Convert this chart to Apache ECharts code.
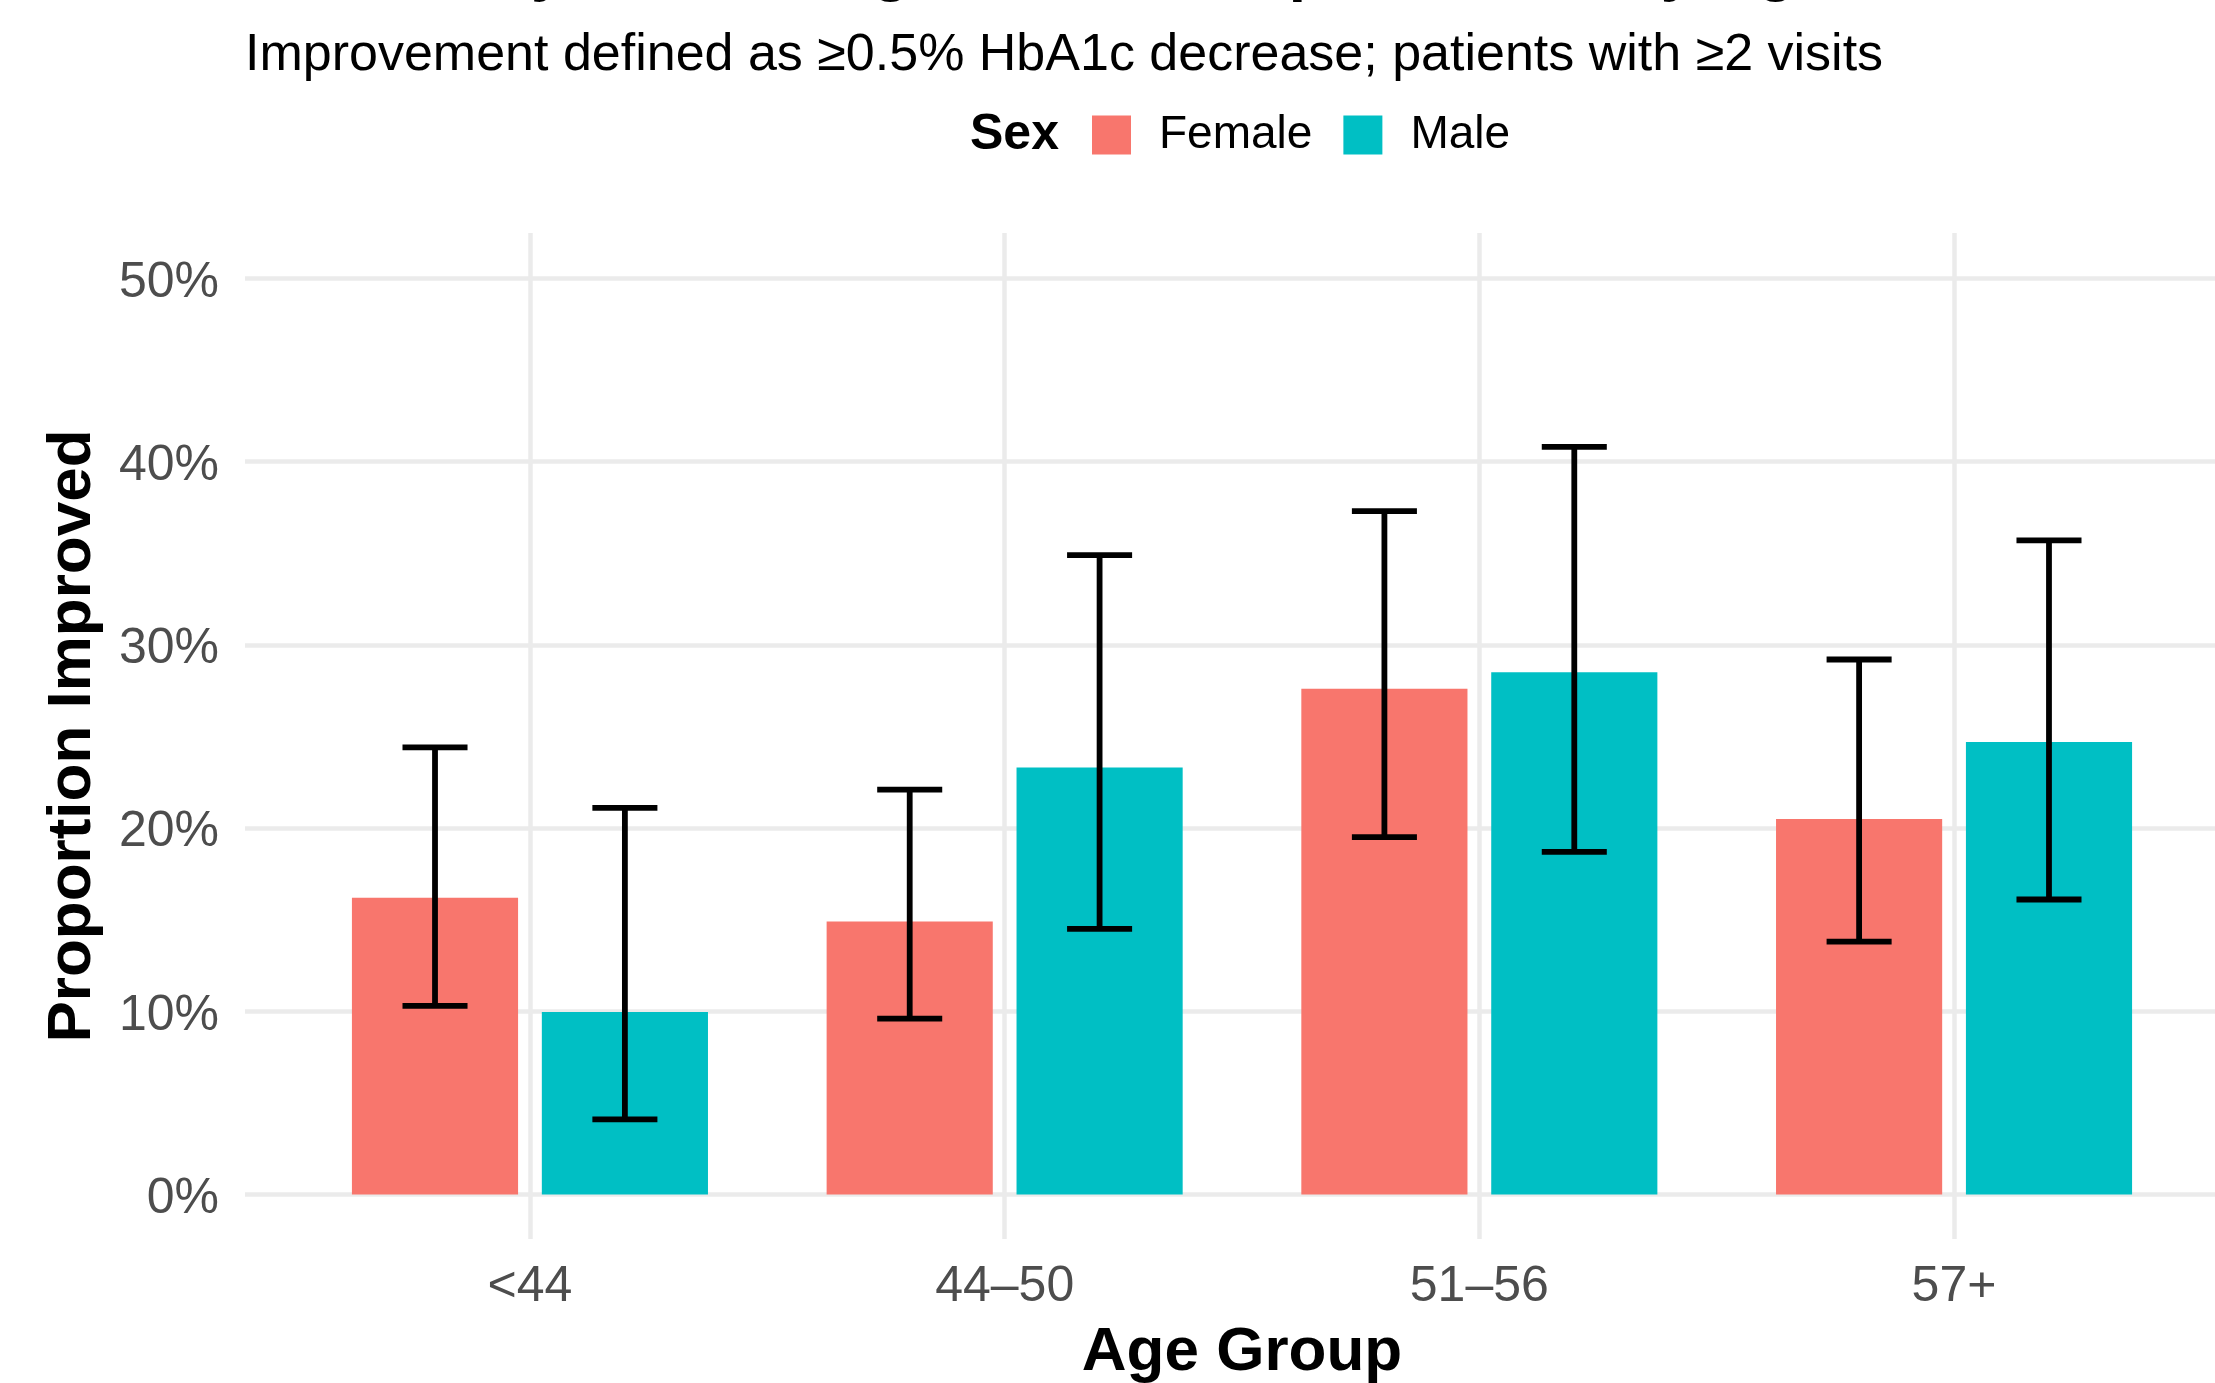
<!DOCTYPE html>
<html>
<head>
<meta charset="utf-8">
<script src="https://cdn.jsdelivr.net/npm/echarts@6/dist/echarts.min.js"></script>
<style>html,body{margin:0;padding:0;background:#fff;}#c{width:2215px;height:1383px;}</style>
</head>
<body>
<div id="c"></div>
<script>
const categories = ['<44', '44\u201350', '51\u201356', '57+'];
const femaleRate = [0.162, 0.149, 0.276, 0.205];
const femaleLow  = [0.103, 0.096, 0.195, 0.138];
const femaleHigh = [0.244, 0.221, 0.373, 0.292];
const maleRate   = [0.0996, 0.233, 0.285, 0.247];
const maleLow    = [0.041, 0.145, 0.187, 0.161];
const maleHigh   = [0.211, 0.349, 0.408, 0.357];
const yTicks = [0, 0.1, 0.2, 0.3, 0.4, 0.5];

const FONT = "'Liberation Sans', Arial, Helvetica, sans-serif";
const chart = echarts.init(document.getElementById('c'), null, {renderer: 'canvas'});

function errRender(sign) {
  return function (params, api) {
    const i = api.value(0);
    const lo = api.coord([i, api.value(1)]);
    const hi = api.coord([i, api.value(2)]);
    const band = api.size([1, 0])[0];
    const x = lo[0] + sign * 0.2 * band;
    const hw = 0.0685 * band;
    const st = {stroke: '#000', lineWidth: 5.8};
    return {
      type: 'group',
      children: [
        {type: 'line', shape: {x1: x, y1: hi[1], x2: x, y2: lo[1]}, style: st},
        {type: 'line', shape: {x1: x - hw, y1: hi[1], x2: x + hw, y2: hi[1]}, style: st},
        {type: 'line', shape: {x1: x - hw, y1: lo[1], x2: x + hw, y2: lo[1]}, style: st}
      ]
    };
  };
}

const option = {
  backgroundColor: '#ffffff',
  animation: false,
  textStyle: {fontFamily: FONT},
  title: [
    {text: 'Probability of Meaningful HbA1c Improvement by Age and Sex', left: 245, top: -59,
     padding: 0, textStyle: {fontFamily: FONT, fontSize: 62, fontWeight: 'bold', color: '#000'}},
    {text: 'Improvement defined as \u22650.5% HbA1c decrease; patients with \u22652 visits', left: 245, top: 30,
     padding: 0, textStyle: {fontFamily: FONT, fontSize: 52, fontWeight: 'normal', color: '#000'}}
  ],
  legend: {
    data: ['Female', 'Male'],
    left: 1092, top: 112, padding: 0,
    icon: 'rect', itemWidth: 39, itemHeight: 39, itemGap: 31,
    selectedMode: false,
    textStyle: {fontFamily: FONT, fontSize: 46, color: '#000', padding: [0, 0, 0, 23], lineHeight: 39}
  },
  graphic: [
    {type: 'text', left: 970, top: 132 - 22, style: {text: 'Sex', font: 'bold 50px ' + FONT, fill: '#000'}},
    {type: 'text', x: 73, y: 736, rotation: Math.PI / 2,
     style: {text: 'Proportion Improved', font: 'bold 62px ' + FONT, fill: '#000', align: 'center', verticalAlign: 'middle'}},
    {type: 'text', x: 1242, y: 1353,
     style: {text: 'Age Group', font: 'bold 62px ' + FONT, fill: '#000', align: 'center', verticalAlign: 'middle'}}
  ],
  grid: [
    {left: 530, width: 1424, top: 233, height: 1006, containLabel: false},
    {left: 245, right: -40, top: 278.4, height: 916.1, containLabel: false},
    {left: 292.6, width: 1898.8, top: 278.4, height: 916.1, containLabel: false}
  ],
  xAxis: [
    {gridIndex: 0, type: 'category', data: categories, boundaryGap: false,
     axisLine: {show: false}, axisTick: {show: false},
     axisLabel: {margin: 23, fontSize: 50, color: '#4D4D4D', fontFamily: FONT},
     splitLine: {show: true, lineStyle: {color: '#EBEBEB', width: 4.5}}},
    {gridIndex: 1, type: 'value', show: false, min: 0, max: 1},
    {gridIndex: 2, type: 'category', data: categories, show: false}
  ],
  yAxis: [
    {gridIndex: 0, type: 'value', show: false, min: 0, max: 1},
    {gridIndex: 1, type: 'value', min: 0, max: 0.5, interval: 0.1,
     axisLine: {show: false}, axisTick: {show: false},
     axisLabel: {margin: 26, fontFamily: FONT,
       formatter: v => '{a|' + Math.round(v * 100) + '%}',
       rich: {a: {fontSize: 50, color: '#4D4D4D', fontFamily: FONT, padding: [9, 0, 0, 0]}}},
     splitLine: {show: true, lineStyle: {color: '#EBEBEB', width: 4.5}}},
    {gridIndex: 2, type: 'value', show: false, min: 0, max: 0.5}
  ],
  series: [
    {name: 'Female', type: 'bar', xAxisIndex: 2, yAxisIndex: 2, data: femaleRate,
     barWidth: '35%', barGap: '14.3%', itemStyle: {color: '#F8766D'}, z: 3},
    {name: 'Male', type: 'bar', xAxisIndex: 2, yAxisIndex: 2, data: maleRate,
     barWidth: '35%', barGap: '14.3%', itemStyle: {color: '#00BFC4'}, z: 3},
    {name: 'Female CI', type: 'custom', xAxisIndex: 2, yAxisIndex: 2, z: 5,
     renderItem: errRender(-1), data: femaleLow.map((v, i) => [i, v, femaleHigh[i]])},
    {name: 'Male CI', type: 'custom', xAxisIndex: 2, yAxisIndex: 2, z: 5,
     renderItem: errRender(1), data: maleLow.map((v, i) => [i, v, maleHigh[i]])}
  ]
};
chart.setOption(option);
</script>
</body>
</html>
